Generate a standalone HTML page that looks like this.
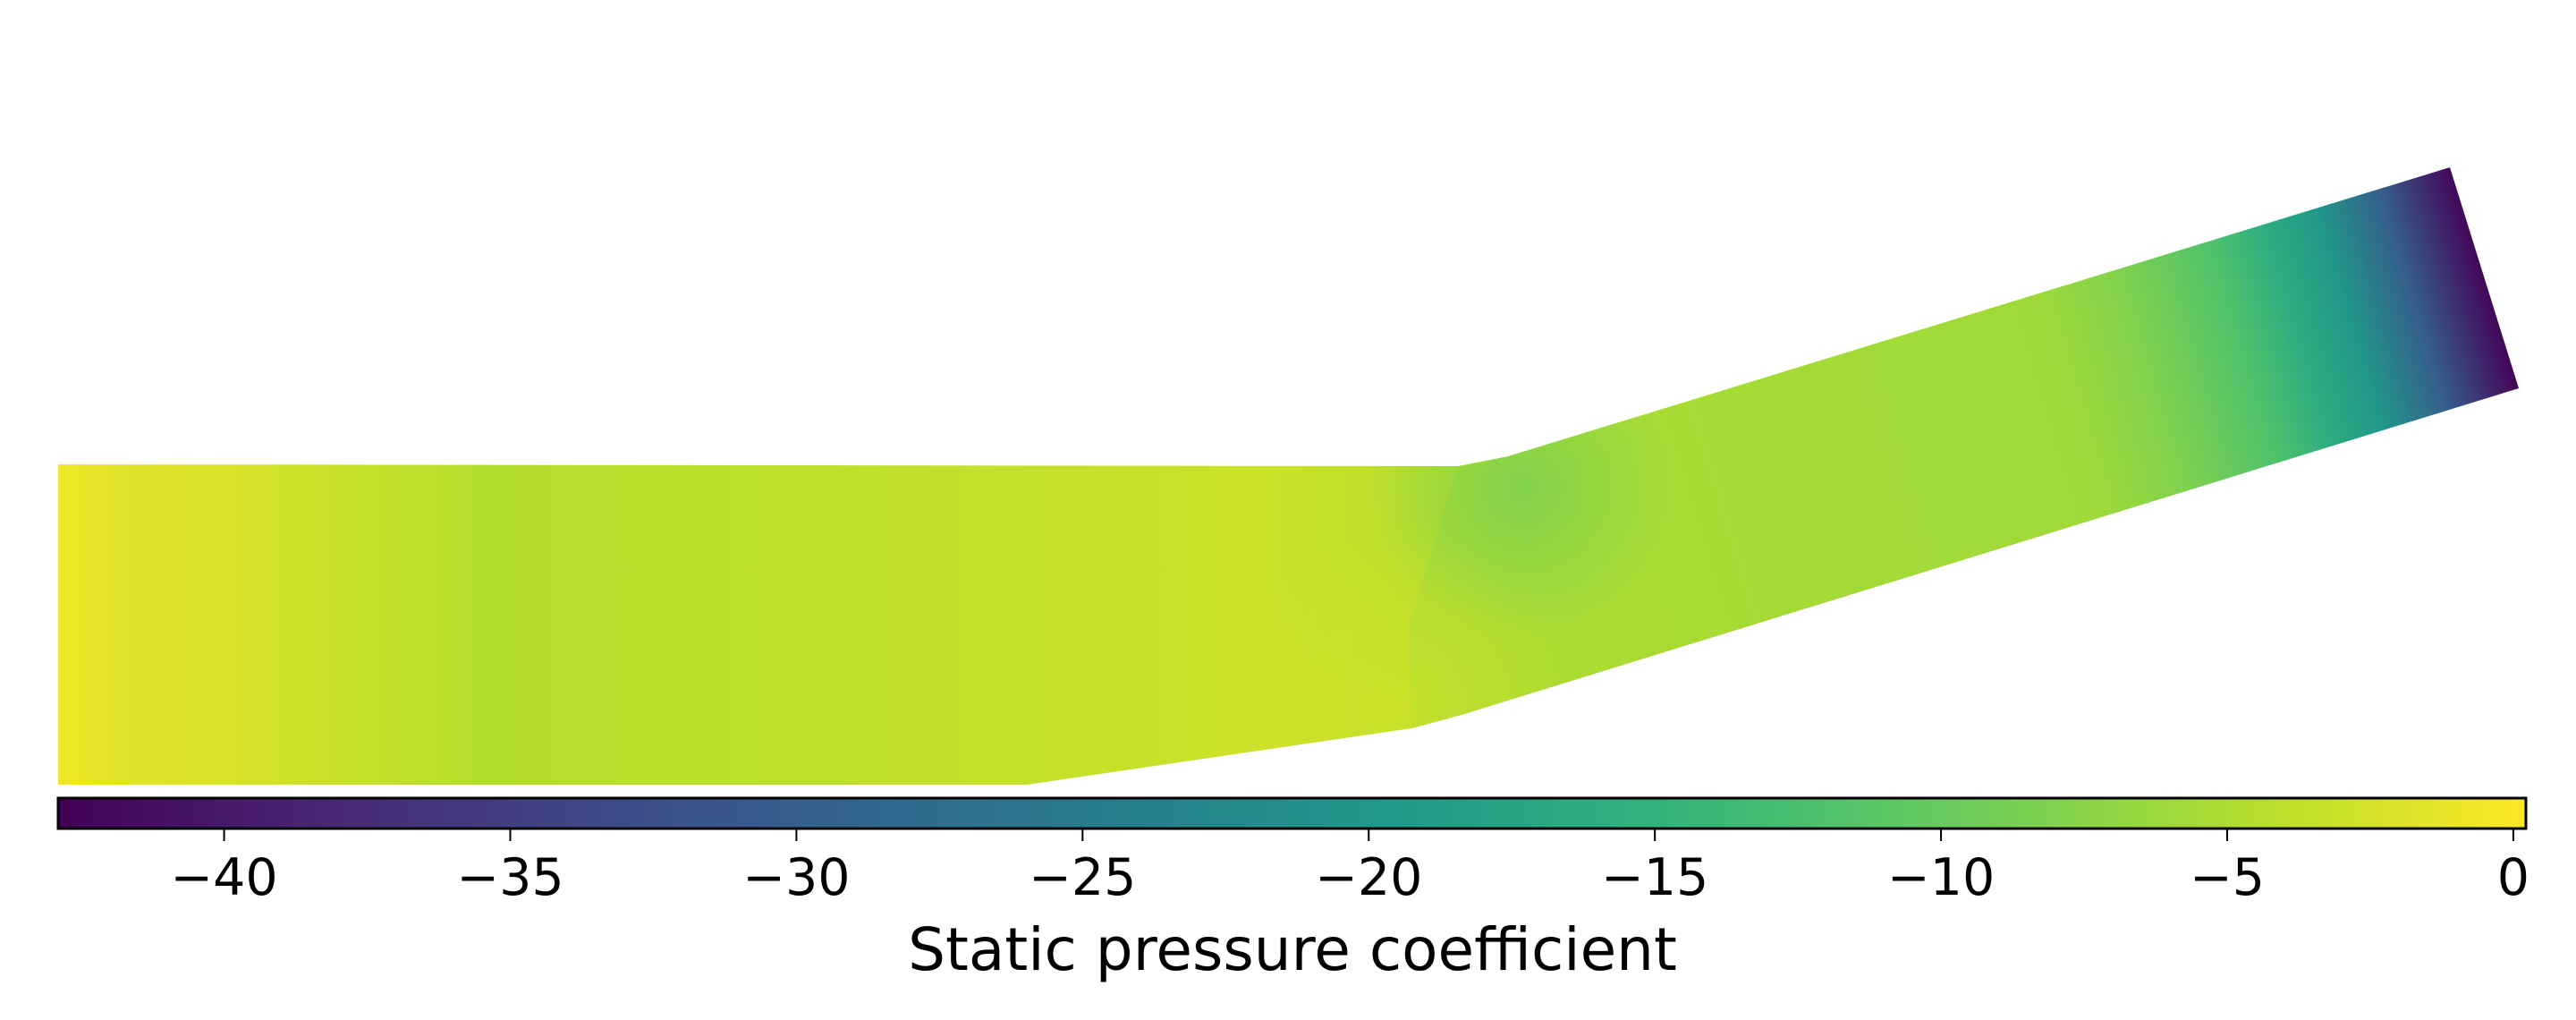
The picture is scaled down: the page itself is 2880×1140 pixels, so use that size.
<!DOCTYPE html>
<html><head><meta charset="utf-8"><style>
html,body{margin:0;padding:0;background:#fff;width:2880px;height:1140px;overflow:hidden}
svg text{font-family:"DejaVu Sans","Liberation Sans",sans-serif;fill:#000}
</style></head><body>
<svg id="chart" width="2880" height="1140" viewBox="0 0 2880 1140" xmlns="http://www.w3.org/2000/svg">
<defs id="defs">
<clipPath id="ductClip"><polygon points="65,519 1637,521 1686,510 2739,187 2816,434 1634,799 1578,814 1148,877 65,877"/></clipPath>
</defs>
<g id="field"></g>
<g id="cbar"></g>
</svg>
<script>
// colorbar range and ticks
const cbMin = -42.9, cbMax = 0.22;
const tickValues = [-40,-35,-30,-25,-20,-15,-10,-5,0];
const tickLabels = ["\u221240","\u221235","\u221230","\u221225","\u221220","\u221215","\u221210","\u22125","0"];
// pressure samples along straight inlet section (by fraction of length)
const inletPos = [0,0.05,0.12,0.3,0.45,0.65,0.85,1.0];
const inletCp = [-0.5,-1.8,-2.2,-4.6,-4.3,-3.6,-3.0,-4.5];
// pressure samples along angled outlet section (by fraction along axis)
const outletPos = [0,0.3,0.6,0.68,0.77,0.82,0.87,0.93,1.0];
const outletCp = [-5,-5.5,-6,-8,-12,-16,-20,-30,-42.5];

const VIR = [[68,1,84],[72,40,120],[62,74,137],[49,104,142],[38,130,142],[31,158,137],[53,183,121],[109,205,89],[180,222,44],[253,231,37]];
function viridis(t){t=Math.max(0,Math.min(1,t));const f=t*(VIR.length-1);const i=Math.min(VIR.length-2,Math.floor(f));const u=f-i;
 const c=VIR[i].map((v,k)=>Math.round(v+(VIR[i+1][k]-v)*u));return `rgb(${c[0]},${c[1]},${c[2]})`;}
function cpColor(v){return viridis((v-cbMin)/(cbMax-cbMin));}
const NS="http://www.w3.org/2000/svg";
const defs=document.getElementById('defs');
function grad(id,x1,y1,x2,y2,pos,vals){const g=document.createElementNS(NS,'linearGradient');g.id=id;
 g.setAttribute('gradientUnits','userSpaceOnUse');g.setAttribute('x1',x1);g.setAttribute('y1',y1);g.setAttribute('x2',x2);g.setAttribute('y2',y2);
 pos.forEach((p,i)=>{const s=document.createElementNS(NS,'stop');s.setAttribute('offset',p);s.setAttribute('stop-color',cpColor(vals[i]));g.appendChild(s);});
 defs.appendChild(g);}
grad('gIn',65,0,1640,0,inletPos,inletCp);
grad('gOut',1600,665,2780,310,outletPos,outletCp);
const cbPos=[],cbVals=[];for(let i=0;i<=20;i++){cbPos.push(i/20);cbVals.push(cbMin+(cbMax-cbMin)*i/20);}
grad('gCb',65,0,2824,0,cbPos,cbVals);
function radial(id,cx,cy,r,v,op){const rg=document.createElementNS(NS,'radialGradient');rg.id=id;rg.setAttribute('gradientUnits','userSpaceOnUse');
 rg.setAttribute('cx',cx);rg.setAttribute('cy',cy);rg.setAttribute('r',r);
 [[0,op],[1,0]].forEach(a=>{const s=document.createElementNS(NS,'stop');s.setAttribute('offset',a[0]);s.setAttribute('stop-color',cpColor(v));s.setAttribute('stop-opacity',a[1]);rg.appendChild(s);});
 defs.appendChild(rg);}
radial('gSpot',1700,545,170,-10,0.6);
radial('gSpot2',1560,790,200,-2,0.5);

const field=document.getElementById('field');
function poly(pts,fill,name){const p=document.createElementNS(NS,'polygon');p.setAttribute('points',pts);p.setAttribute('fill',fill);
 
 
 field.appendChild(p);return p;}
poly("65,519 1642,521 1634,799 1578,814 1148,877 65,877","url(#gIn)","inlet-section");
poly("1630,521 1686,510 2739,187 2816,434 1634,799 1578,814 1575,700","url(#gOut)","outlet-section");
const spots=document.createElementNS(NS,'g');spots.setAttribute('clip-path','url(#ductClip)');field.appendChild(spots);
[['gSpot',1700,545,170,'kink-low-pressure-spot'],['gSpot2',1560,790,200,'corner-high-pressure-spot']].forEach(s=>{
 const c=document.createElementNS(NS,'circle');c.setAttribute('cx',s[1]);c.setAttribute('cy',s[2]);c.setAttribute('r',s[3]);c.setAttribute('fill','url(#'+s[0]+')');
 
 
 spots.appendChild(c);});

const cb=document.getElementById('cbar');
const rect=document.createElementNS(NS,'rect');rect.setAttribute('x',65);rect.setAttribute('y',892);rect.setAttribute('width',2759);rect.setAttribute('height',34);
rect.setAttribute('fill','url(#gCb)');rect.setAttribute('stroke','#000');rect.setAttribute('stroke-width',3);


cb.appendChild(rect);
function xScale(v){return 65+(v-cbMin)/(cbMax-cbMin)*2759;}
tickValues.forEach((v,i)=>{const x=xScale(v);
 const l=document.createElementNS(NS,'line');l.setAttribute('x1',x);l.setAttribute('x2',x);l.setAttribute('y1',926);l.setAttribute('y2',940);l.setAttribute('stroke','#000');l.setAttribute('stroke-width',2);
 
 
 cb.appendChild(l);
 const t=document.createElementNS(NS,'text');t.setAttribute('x',x);t.setAttribute('y',1000);t.setAttribute('text-anchor','middle');t.setAttribute('font-size',57);t.textContent=tickLabels[i];
 
 
 cb.appendChild(t);});
const lab=document.createElementNS(NS,'text');lab.setAttribute('x',1445);lab.setAttribute('y',1084);lab.setAttribute('text-anchor','middle');lab.setAttribute('font-size',66);lab.textContent='Static pressure coefficient';


cb.appendChild(lab);
</script>
</body></html>
